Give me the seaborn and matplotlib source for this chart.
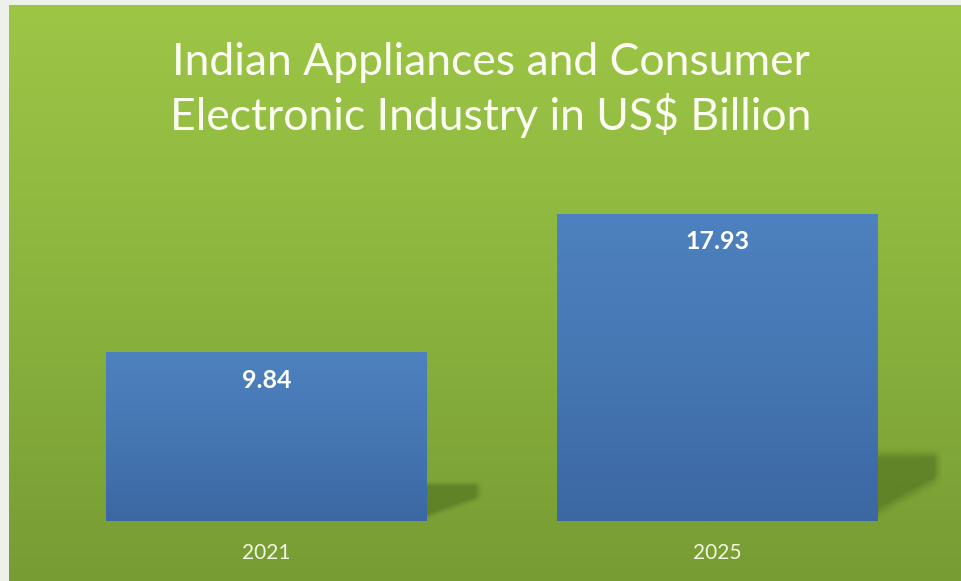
import numpy as np
import matplotlib
matplotlib.use("Agg")
import matplotlib.pyplot as plt
import seaborn as sns
from matplotlib.colors import LinearSegmentedColormap, to_rgb

# ---- data ----
years = ["2021", "2025"]
values = [9.84, 17.93]
title_lines = ["Indian Appliances and Consumer", "Electronic Industry in US$ Billion"]

W, H = 961, 581
sns.set_theme(style="white")
plt.rcParams["font.family"] = ["Lato", "DejaVu Sans"]

fig = plt.figure(figsize=(W / 100, H / 100), dpi=100, facecolor="#eef1ea")

# background gradient
bg = fig.add_axes([9 / W, 0, (W - 9) / W, (H - 5) / H])
green = LinearSegmentedColormap.from_list("g", ["#9dc646", "#8ab43e", "#779c34"])
grad = np.linspace(0, 1, 256).reshape(-1, 1)
bg.imshow(grad, aspect="auto", cmap=green, extent=[0, 1, 0, 1], origin="upper")
bg.set_axis_off()

# main axes: baseline at pixel 521, 1 unit = 17.15 px
top_px = 100
ax = fig.add_axes([41.25 / W, (H - 521) / H, 901 / W, (521 - top_px) / H])
ax.set_facecolor("none")
sns.barplot(x=years, y=values, ax=ax, width=0.712, color="#4a7cba", saturation=1,
            zorder=3)
ax.set_xlim(-0.5, 1.5)
ax.set_ylim(0, (521 - top_px) / 17.15)

blue = LinearSegmentedColormap.from_list("b", ["#4d81bf", "#4577b3", "#3c67a3"])


def smooth(t, soft):
    return np.clip(t / soft, 0, 1) ** 1.5


for p in ax.patches:
    x0, w, h = p.get_x(), p.get_width(), p.get_height()
    x1 = x0 + w
    # soft perspective shadow as RGBA image
    ext = 0.095 + 0.003 * h
    sh_top = 0.24 * h
    uu, vv = np.meshgrid(np.linspace(0, 1, 120), np.linspace(1, 0, 120))
    vb = 0.5 * uu
    alpha = (0.55 * smooth(1 - uu, 0.15) * smooth(1 - vv, 0.15)
             * smooth(vv - vb, 0.18))
    rgba = np.zeros((120, 120, 4))
    rgba[..., :3] = to_rgb("#4a6a1c")
    rgba[..., 3] = alpha
    ax.imshow(rgba, aspect="auto", extent=[x1, x1 + ext, 0, sh_top],
              origin="upper", zorder=1, interpolation="bilinear")
    # gradient fill clipped to bar
    im = ax.imshow(grad, aspect="auto", cmap=blue, extent=[x0, x1, 0, h],
                   origin="upper", zorder=3)
    im.set_clip_path(p)
    p.set_facecolor("none")
    p.set_edgecolor("none")
    # value label
    ax.annotate(f"{h:.2f}", xy=(x0 + w / 2, h), xytext=(0, -20),
                textcoords="offset points", ha="center", va="center",
                color="white", fontsize=18, fontweight="bold", zorder=5)

ax.set_xlim(-0.5, 1.5)
ax.set_ylim(0, (521 - top_px) / 17.15)
for s in ax.spines.values():
    s.set_visible(False)
ax.set_yticks([])
ax.set_xlabel("")
ax.set_ylabel("")
ax.tick_params(axis="x", length=0, pad=16, labelsize=15, labelcolor="#f2f6e4")

# title
for i, line in enumerate(title_lines):
    fig.text(491 / W, (H - (75 + 55 * i)) / H, line, ha="center", va="baseline",
             color="#fbfdf2", fontsize=32)

fig.savefig("out.png", dpi=100, facecolor=fig.get_facecolor())
